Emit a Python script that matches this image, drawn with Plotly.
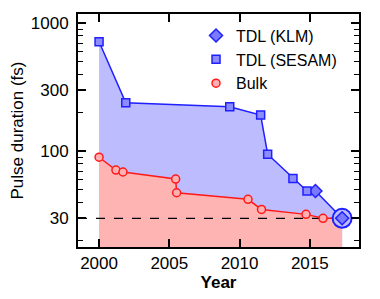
import plotly.graph_objects as go

# SESAM-modelocked thin-disk lasers
sesam_year = [2000.0, 2001.9, 2009.3, 2011.5, 2012.0, 2013.8, 2014.8]
sesam_fs = [718, 240, 223, 192, 95, 61.5, 49]
# KLM thin-disk lasers
klm_year = [2015.4, 2017.3]
klm_fs = [49, 30]
# Bulk lasers
bulk_year = [2000.0, 2001.2, 2001.7, 2005.45, 2005.52, 2010.6, 2011.56, 2014.73, 2015.94]
bulk_fs = [90, 71.5, 69, 60.8, 47.5, 42.2, 35.2, 32.2, 30]

x_ticks = [2000, 2005, 2010, 2015]
y_ticks = [30, 100, 300, 1000]
y_minor = [20, 40, 50, 60, 70, 80, 90, 200, 400, 500, 600, 700, 800, 900]
ref_fs = 30
x_range = [1998.5, 2018.5]
floor = 10

BLUE = "#1f1fff"
RED = "#ff1a1a"
BLUE_FILL = "#bcbcff"
RED_FILL = "#ffb4b4"

tdl_x = sesam_year + klm_year
tdl_y = sesam_fs + klm_fs
fig = go.Figure()

fig.add_trace(go.Scatter(
    x=tdl_x + [tdl_x[-1], tdl_x[0]], y=tdl_y + [floor, floor],
    fill="toself", fillcolor=BLUE_FILL, mode="lines", line=dict(width=0),
    showlegend=False, hoverinfo="skip"))
fig.add_trace(go.Scatter(
    x=bulk_year + [klm_year[-1], klm_year[-1], bulk_year[0]],
    y=bulk_fs + [klm_fs[-1], floor, floor],
    fill="toself", fillcolor=RED_FILL, mode="lines", line=dict(width=0),
    showlegend=False, hoverinfo="skip"))
fig.add_trace(go.Scatter(
    x=x_range, y=[ref_fs, ref_fs], mode="lines",
    line=dict(color="black", width=1.2, dash="dash"),
    showlegend=False, hoverinfo="skip"))
fig.add_trace(go.Scatter(
    x=tdl_x, y=tdl_y, mode="lines", line=dict(color=BLUE, width=1.5),
    showlegend=False))
fig.add_trace(go.Scatter(
    x=bulk_year + [klm_year[-1]], y=bulk_fs + [klm_fs[-1]], mode="lines",
    line=dict(color=RED, width=1.5), showlegend=False))
fig.add_trace(go.Scatter(
    x=klm_year[-1:], y=klm_fs[-1:], mode="markers",
    marker=dict(symbol="circle", size=19, color=BLUE_FILL,
                line=dict(color=BLUE, width=2)),
    showlegend=False))
fig.add_trace(go.Scatter(
    x=klm_year, y=klm_fs, mode="markers", name="TDL (KLM)",
    marker=dict(symbol="diamond", size=10, color="#7a7aff",
                line=dict(color=BLUE, width=1.5))))
fig.add_trace(go.Scatter(
    x=sesam_year, y=sesam_fs, mode="markers", name="TDL (SESAM)",
    marker=dict(symbol="square", size=8, color="#8c8cff",
                line=dict(color=BLUE, width=1.5))))
fig.add_trace(go.Scatter(
    x=bulk_year, y=bulk_fs, mode="markers", name="Bulk",
    marker=dict(symbol="circle", size=8, color="#ffb0b0",
                line=dict(color=RED, width=1.5))))

axis_common = dict(showline=True, linecolor="black", linewidth=1.8,
                   mirror="allticks", ticks="inside", tickcolor="black",
                   tickwidth=1.5, showgrid=False, zeroline=False,
                   automargin=False,
                   tickfont=dict(size=17, color="black"))

fig.update_xaxes(range=x_range, tickvals=x_ticks, ticklen=8,
                 title=dict(text="<b>Year</b>", font=dict(size=17, color="black"),
                            standoff=0),
                 **axis_common)
fig.update_yaxes(type="log", range=[1.253, 3.073], tickvals=y_ticks,
                 ticktext=[str(v) for v in y_ticks], ticklen=8,
                 ticklabelstandoff=4,
                 minor=dict(tickvals=y_minor, ticks="inside", ticklen=5,
                            tickcolor="black", tickwidth=1.2),
                 title=dict(text="Pulse duration (fs)",
                            font=dict(size=17, color="black"), standoff=14),
                 **axis_common)

# page body has an 8px default margin, so the figure is sized to fit the window
fig.update_layout(
    width=372, height=291,
    margin=dict(l=70, r=21, t=6, b=52),
    paper_bgcolor="white", plot_bgcolor="white",
    font=dict(family="Liberation Sans, Arial, sans-serif", size=17, color="black"),
    legend=dict(x=0.42, y=0.98, xanchor="left", yanchor="top",
                bgcolor="rgba(0,0,0,0)", font=dict(size=16),
                tracegroupgap=0, itemwidth=30),
)

fig.write_html("out.html")
